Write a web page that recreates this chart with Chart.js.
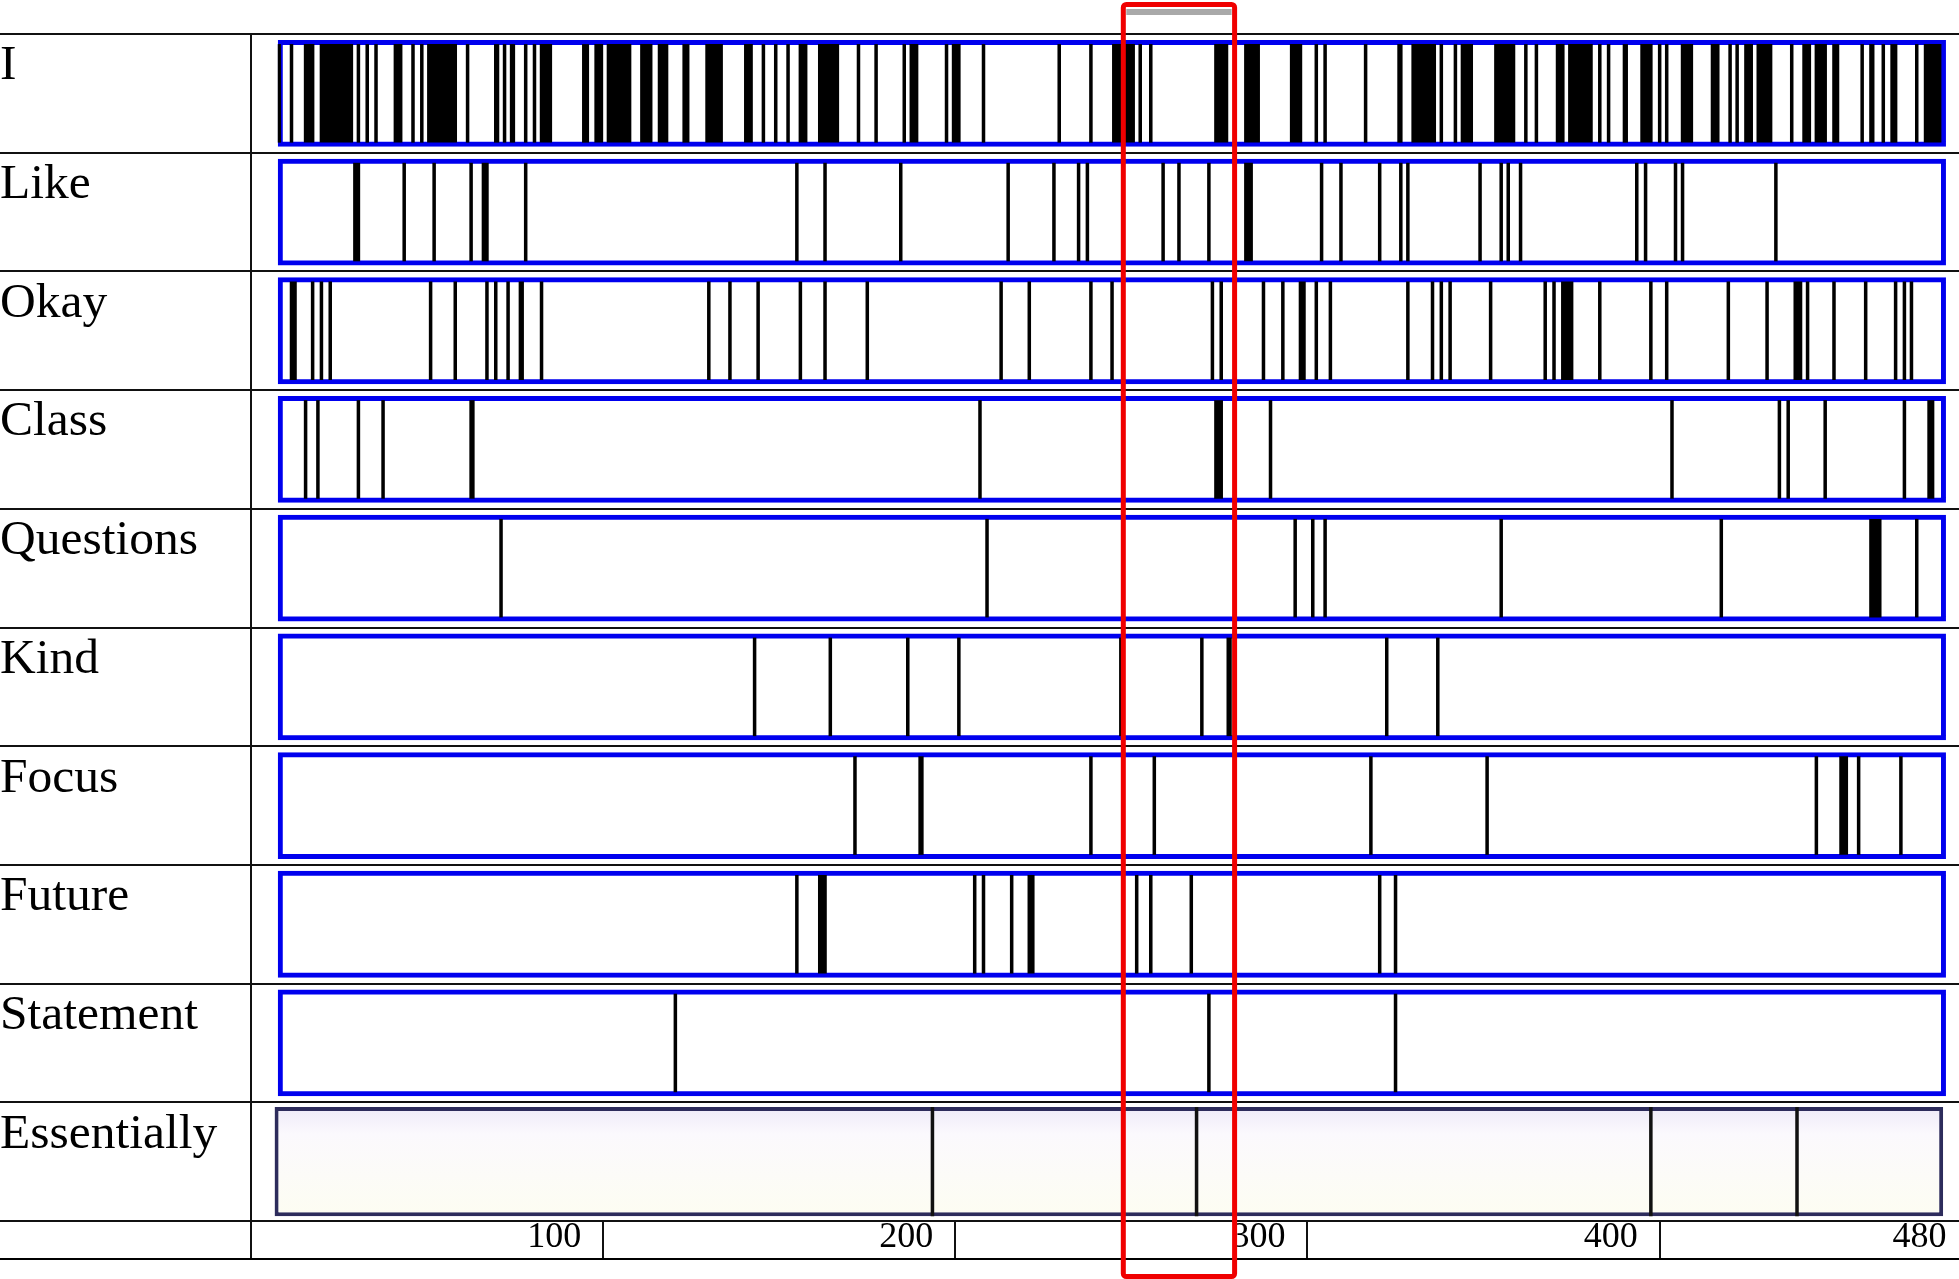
<!DOCTYPE html>
<html>
<head>
<meta charset="utf-8">
<title>Word occurrences</title>
<script src="https://cdn.jsdelivr.net/npm/chart.js@4.4.1/dist/chart.umd.min.js"></script>
<style>
  html, body { margin: 0; padding: 0; background: #fff; }
  #wrap { width: 1959px; height: 1279px; }
</style>
</head>
<body>
<div id="wrap"><canvas id="wordChart"></canvas></div>
<script>

/***** DATA (seconds) *****/
const words = ['I', 'Like', 'Okay', 'Class', 'Questions', 'Kind', 'Focus', 'Future', 'Statement', 'Essentially'];
const tickValues = [100, 200, 300, 400];
const endTick = [480];

const sessionSpan = [7.6, 481.3];
const essentiallySpan = [6.7, 480.5];
const highlightWindow = [247.7, 279.3];

const iRuns = [[7.6,8.5],[11,12],[15,18],[19.5,29],[30,31],[32.5,33.5],[35,36],[40.5,43],[45.5,46.5],[48,49],
  [50,58.5],[61,62],[69,70.5],[71.5,72.5],[73.5,75],[77.5,78.5],[80,81],[82,85.5],[94,96],[97.5,100],
  [101,108],[110.5,114],[115.5,118.5],[122.5,124.5],[129,134],[140,142.5],[145,146],[148.5,149.5],[152,153],[155.5,158],
  [161,167],[172,173],[177,178],[185,186],[187,189.5],[197,198],[199,201.5],[207.5,208.5],[229,230],[238,239],
  [244.5,251],[252,253],[255,256],[273.5,277.5],[282,286.5],[295,298.5],[302,303],[304.5,305.5],[316,317],[325.5,327],
  [329.5,336.5],[337.5,338.5],[341.5,342.5],[343.5,347],[353,359],[361.5,362.5],[364.5,365.5],[370.5,373],[374,381],[382.5,383.5],
  [385,386],[389.5,391],[394.5,398],[399.5,400.5],[401.5,402.5],[406,409.5],[414.5,417],[419.5,420.5],[421.5,422.5],[424,426.5],
  [427.5,432],[437,438],[440.5,443],[444,447.5],[449,451],[457,458],[459.5,461],[463,464],[465.5,467.5],[472.5,473.5],[475,480]];
const likeRuns = [[29,31],[43,44],[51.5,52.5],[62,63],[65.5,67.5],[77.5,78.5],[154.5,155.5],[162.5,163.5],[184,185],[214.5,215.5],
  [227.5,228.5],[234.5,235.5],[237,238],[258.5,259.5],[263,264],[271.5,272.5],[282,284.5],[303.5,304.5],[309,310],[320,321],
  [326,327],[328,329],[348.5,349.5],[354.5,355.5],[356.5,357.5],[360,361],[393,394],[395.5,396.5],[404,405],[406,407],[432.5,433.5]];
const okayRuns = [[11,13],[17,18],[19.5,20.5],[22,23],[50.5,51.5],[57.5,58.5],[66.5,67.5],[69,70],[72.5,73.5],[76,77.5],
  [82,83],[129.5,130.5],[135.5,136.5],[143.5,144.5],[155.5,156.5],[162.5,163.5],[174.5,175.5],[212.5,213.5],[220.5,221.5],[238,239],
  [244,245],[272.5,273.5],[275,276],[287,288],[292.5,293.5],[297.5,299.5],[302,303],[306,307],[328,329],[335,336],
  [337.5,338.5],[340,341],[351.5,352.5],[367,368],[369.5,370.5],[372,375.5],[382.5,383.5],[397,398],[401.5,402.5],[419,420],
  [430,431],[438,440.5],[441.5,442.5],[449,450],[458,459],[466.5,467.5],[469,470],[471,472]];
const classRuns = [[15,16],[18.5,19.5],[30,31],[37,38],[62,63.5],[206.5,207.5],[273.5,276],[289,290],[403,404],[433.5,434.5],
  [436,437],[446.5,447.5],[469,470],[476,478]];
const questionsRuns = [[70.5,71.5],[208.5,209.5],[296,297],[301,302],[304.5,305.5],[354.5,355.5],[417,418],[459.5,463],[472.5,473.5]];
const kindRuns = [[142.5,143.5],[164,165],[186,187],[200.5,201.5],[246.5,247.5],[269.5,270.5],[277,278.5],[322,323],[336.5,337.5]];
const focusRuns = [[171,172],[189.5,191],[238,239],[256,257],[317.5,318.5],[350.5,351.5],[444,445],[451,453.5],[456,457],[468,469]];
const futureRuns = [[154.5,155.5],[161,163.5],[205,206],[207.5,208.5],[215.5,216.5],[220.5,222.5],[251,252],[255,256],[266.5,267.5],[320,321],
  [324.5,325.5]];
const statementRuns = [[120,121],[271.5,272.5],[324.5,325.5]];
const essentiallyRuns = [[193,194],[268,269],[397,398],[438.5,439.5]];


/***** build bar points *****/
const serif = "'Liberation Serif', 'Times New Roman', serif";
const rowRuns = [iRuns, likeRuns, okayRuns, classRuns, questionsRuns, kindRuns, focusRuns, futureRuns, statementRuns];

let eventPoints = [];
rowRuns.forEach((runs, i) => {
    runs.forEach(r => eventPoints.push({ y: words[i], x: r }));
});
const essentiallyPoints = essentiallyRuns.map(r => ({ y: 'Essentially', x: r }));
const sessionPoints = words.slice(0, 9).map(w => ({ y: w, x: sessionSpan }));

// pale lavender-to-cream fill of the last box
function essentiallyFill(c) {
    const chart = c.chart;
    const ys = chart.scales.y;
    const mid = ys ? ys.getPixelForValue(words.length - 1) : NaN;
    if (!chart.chartArea || !isFinite(mid)) return '#fcfbf4';
    const g = chart.ctx.createLinearGradient(0, mid - 55, 0, mid + 55);
    g.addColorStop(0, '#eeeaf8');
    g.addColorStop(0.25, '#fbf9fd');
    g.addColorStop(1, '#fdfdf2');
    return g;
}


/***** table rule + highlight window *****/
const frame = {
    id: 'frame',
    afterDraw(chart) {
        const { ctx } = chart;
        const xs = chart.scales.x;
        ctx.save();
        ctx.strokeStyle = '#000';
        ctx.lineWidth = 2;
        ctx.beginPath();
        ctx.moveTo(0, xs.bottom);
        ctx.lineTo(chart.width, xs.bottom);
        ctx.stroke();

        const x0 = xs.getPixelForValue(highlightWindow[0]);
        const x1 = xs.getPixelForValue(highlightWindow[1]);
        ctx.fillStyle = '#a9a9a9';
        ctx.fillRect(x0 + 3, 9, x1 - x0 - 6, 6);
        ctx.strokeStyle = '#f00000';
        ctx.lineWidth = 5;
        ctx.beginPath();
        ctx.roundRect(x0, 4.5, x1 - x0, chart.height - 7, 3);
        ctx.stroke();
        ctx.restore();
    }
};

const tickFont = { family: serif, size: 36 };

const config = {
    type: 'bar',
    data: {
        labels: words,
        datasets: [{
            label: 'events',
            data: eventPoints,
            backgroundColor: '#000',
            borderWidth: 0,
            barPercentage: 0.83,
            categoryPercentage: 1,
            grouped: false,
            order: 1
        }, {
            label: 'events essentially',
            data: essentiallyPoints,
            backgroundColor: '#111',
            borderWidth: 0,
            barPercentage: 0.92,
            categoryPercentage: 1,
            grouped: false,
            order: 1
        }, {
            label: 'session',
            data: sessionPoints,
            backgroundColor: 'rgba(0,0,0,0)',
            borderColor: '#0000ee',
            borderWidth: 5,
            borderSkipped: false,
            barPercentage: 0.9,
            categoryPercentage: 1,
            grouped: false,
            order: 2
        }, {
            label: 'session essentially',
            data: [{ y: 'Essentially', x: essentiallySpan }],
            backgroundColor: essentiallyFill,
            borderColor: '#2d2c5c',
            borderWidth: 4,
            borderSkipped: false,
            barPercentage: 0.92,
            categoryPercentage: 1,
            grouped: false,
            order: 3
        }]
    },
    options: {
        indexAxis: 'y',
        responsive: true,
        maintainAspectRatio: false,
        animation: false,
        events: [],
        layout: { padding: { top: 34, bottom: 20, left: 0, right: 0 } },
        plugins: {
            legend: { display: false },
            tooltip: { enabled: false }
        },
        scales: {
            y: {
                type: 'category',
                offset: true,
                grid: { offset: true, color: '#111', lineWidth: 2, tickLength: 251 },
                border: { display: true, color: '#111', width: 2 },
                ticks: {
                    crossAlign: 'far',
                    padding: 0,
                    labelOffset: -27,
                    color: '#000',
                    font: { family: serif, size: 49.5 }
                },
                afterFit(scale) { scale.width = 251; }
            },
            x: {
                type: 'linear',
                min: 0,
                max: 485,
                weight: 0,
                afterBuildTicks(scale) {
                    scale.ticks = [0].concat(tickValues).map(v => ({ value: v }));
                },
                grid: {
                    drawOnChartArea: false,
                    tickLength: 38,
                    lineWidth: 2,
                    color: '#111'
                },
                border: { display: false },
                ticks: {
                    align: 'end',
                    labelOffset: -22,
                    padding: -43,
                    autoSkip: false,
                    maxRotation: 0,
                    color: '#000',
                    font: tickFont,
                    callback: v => v === 0 ? '' : v
                },
                afterFit(scale) { scale.height = 38; }
            },
            // last cell of the axis row: its label sits at the right edge
            xEnd: {
                type: 'linear',
                position: 'bottom',
                axis: 'x',
                min: 0,
                max: 485,
                weight: 1,
                afterBuildTicks(scale) {
                    scale.ticks = endTick.map(v => ({ value: v }));
                },
                grid: { display: false, drawTicks: false },
                border: { display: false },
                ticks: {
                    mirror: true,
                    align: 'end',
                    labelOffset: 5,
                    padding: 0,
                    autoSkip: false,
                    maxRotation: 0,
                    color: '#000',
                    font: tickFont
                },
                afterFit(scale) { scale.height = 0; }
            }
        }
    },
    plugins: [frame]
};

const myChart = new Chart(document.getElementById('wordChart'), config);
</script>
</body>
</html>
